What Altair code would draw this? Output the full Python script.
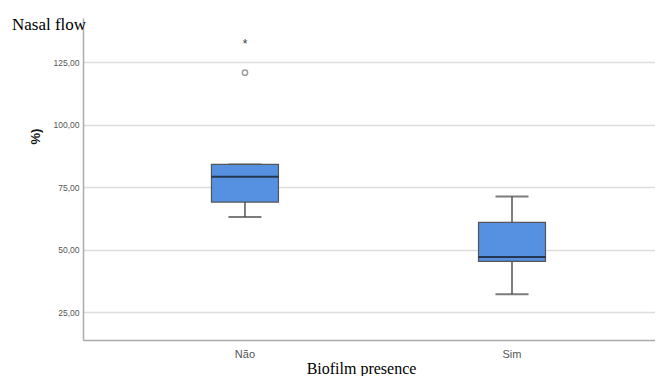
import altair as alt
import pandas as pd

groups = ["Não", "Sim"]
q1 = [69.0, 45.3]
median = [79.2, 47.0]
q3 = [84.1, 60.9]
whisker_low = [63.0, 32.1]
whisker_high = [84.1, 71.2]

outlier_groups = ["Não"]
outlier_values = [120.8]
extreme_groups = ["Não"]
extreme_values = [133.6]

y_ticks = [25, 50, 75, 100, 125]

box_df = pd.DataFrame({
    "group": groups, "q1": q1, "median": median, "q3": q3,
    "low": whisker_low, "high": whisker_high,
})
out_df = pd.DataFrame({"group": outlier_groups, "value": outlier_values})
ext_df = pd.DataFrame({"group": extreme_groups, "value": extreme_values})

xscale = alt.Scale(domain=groups, paddingInner=0, paddingOuter=0.071, align=0.75)
yscale = alt.Scale(domain=[13.8, 142.7], nice=False, zero=False)

x_enc = alt.X("group:N", scale=xscale, sort=groups,
              axis=alt.Axis(title="Biofilm presence", labelAngle=0, ticks=False,
                            domainColor="#aaaaaa", domainWidth=1.5,
                            labelFont="Liberation Sans", labelFontSize=11,
                            labelColor="#555555", labelPadding=8,
                            titleFont="Liberation Serif", titleFontSize=16,
                            titleFontWeight="normal", titleColor="#000000",
                            titleX=278, titleY=33, titleBaseline="alphabetic"))

y_axis = alt.Axis(values=y_ticks, title="%)", ticks=False,
                  labelExpr="replace(format(datum.value, '.2f'), '.', ',')",
                  labelFont="Liberation Sans", labelFontSize=8.5,
                  labelColor="#555555", labelPadding=4,
                  domainColor="#aaaaaa", domainWidth=1.5,
                  grid=True, gridColor="#dddddd", gridWidth=1.5,
                  titleFont="Liberation Sans", titleFontSize=13,
                  titleFontWeight="bold", titleColor="#111111",
                  titleX=-48, titleY=118, titleAngle=270,
                  titleAlign="center", titleBaseline="middle")

base = alt.Chart(box_df)

whisk_lo = base.mark_rule(color="#555555", strokeWidth=1.5).encode(
    x=x_enc, y=alt.Y("low:Q", scale=yscale, axis=y_axis), y2="q1:Q")
whisk_hi = base.mark_rule(color="#555555", strokeWidth=1.5).encode(
    x=x_enc, y=alt.Y("q3:Q", scale=yscale), y2="high:Q")
cap_lo = base.mark_tick(color="#444444", size=33, thickness=2).encode(
    x=x_enc, y=alt.Y("low:Q", scale=yscale))
cap_hi = base.mark_tick(color="#444444", size=33, thickness=2).encode(
    x=x_enc, y=alt.Y("high:Q", scale=yscale))
box = base.mark_bar(size=67, color="#5591e0", stroke="#555555", strokeWidth=1.2).encode(
    x=x_enc, y=alt.Y("q1:Q", scale=yscale), y2="q3:Q")
med = base.mark_tick(color="#111111", size=67, thickness=2).encode(
    x=x_enc, y=alt.Y("median:Q", scale=yscale))

outl = alt.Chart(out_df).mark_point(shape="circle", filled=False, color="#777777",
                                    size=28, strokeWidth=1.5).encode(
    x=x_enc, y=alt.Y("value:Q", scale=yscale))
ext = alt.Chart(ext_df).mark_text(text="*", fontSize=12, font="Liberation Sans",
                                  color="#333333", dy=3, baseline="middle").encode(
    x=x_enc, y=alt.Y("value:Q", scale=yscale))

title_df = pd.DataFrame({"t": ["Nasal flow"]})
title = alt.Chart(title_df).mark_text(font="Liberation Serif", fontSize=17,
                                      color="#000000", align="left",
                                      baseline="alphabetic").encode(
    text="t:N", x=alt.value(-71), y=alt.value(12))

chart = alt.layer(whisk_lo, whisk_hi, cap_lo, cap_hi, box, med, outl, ext, title).properties(
    width=572, height=322,
    background="white",
    autosize=alt.AutoSizeParams(type="none"),
    padding={"left": 75, "top": 10, "right": 0, "bottom": 36},
).configure_view(stroke=None)

chart.save("out.html", embed_options={"renderer": "svg", "actions": False})
